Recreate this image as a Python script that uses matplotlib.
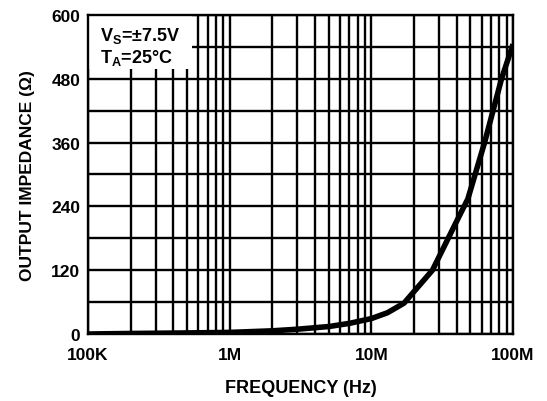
import matplotlib
matplotlib.use("Agg")
import matplotlib.pyplot as plt
from matplotlib.patches import Rectangle
from matplotlib.ticker import FixedLocator, NullFormatter

plt.rcParams['font.family'] = ['Liberation Sans', 'DejaVu Sans']
plt.rcParams['font.weight'] = 'bold'
plt.rcParams['mathtext.fontset'] = 'custom'
plt.rcParams['mathtext.rm'] = 'Liberation Sans:bold'
plt.rcParams['mathtext.it'] = 'Liberation Sans:bold'
plt.rcParams['mathtext.bf'] = 'Liberation Sans:bold'

freq = [1e5, 2e5, 5e5, 1e6, 2e6, 3e6, 5e6, 7e6, 1e7, 1.3e7, 1.7e7,
        2.7e7, 4e7, 4.8e7, 6.3e7, 8.3e7, 1e8]
impedance = [0, 1, 2, 3, 6, 9, 14, 20, 29, 40, 58,
             120, 212, 254, 360, 480, 545]

xticks = [1e5, 1e6, 1e7, 1e8]
xticklabels = ["100K", "1M", "10M", "100M"]
yticks = [0, 120, 240, 360, 480, 600]

fig = plt.figure(figsize=(5.47, 4.02), dpi=100)
ax = fig.add_axes([88/547, 1-335/402, 425/547, 319/402])

ax.set_xscale('log')
ax.set_xlim(1e5, 1e8)
ax.set_ylim(0, 600)

ax.set_xticks(xticks)
ax.set_xticklabels(xticklabels)
minor = [m * 10**e for e in range(5, 8) for m in range(2, 10)]
ax.xaxis.set_minor_locator(FixedLocator(minor))
ax.xaxis.set_minor_formatter(NullFormatter())
ax.set_yticks(yticks)
ax.yaxis.set_minor_locator(FixedLocator([60, 180, 300, 420, 540]))

ax.set_axisbelow(True)
ax.grid(True, which='both', color='black', linewidth=1.7)
ax.tick_params(which='both', length=0, labelsize=12.5)
ax.tick_params(axis='x', pad=9.5)
ax.tick_params(axis='y', pad=5.5)
for lab in ax.get_xticklabels() + ax.get_yticklabels():
    lab.set_fontweight('bold')
for s in ax.spines.values():
    s.set_linewidth(1.7)

ax.plot(freq, impedance, color='black', linewidth=4, solid_capstyle='butt',
        solid_joinstyle='round', zorder=3)

ax.add_patch(Rectangle((0, 1 - 54/319), 104/425, 54/319, transform=ax.transAxes,
                       facecolor='white', edgecolor='none', zorder=1))
ax.text(12/425, 1 - 20/319, "V$_{S}$=±7.5V", transform=ax.transAxes,
        fontsize=13, fontweight='bold', va='center', ha='left', zorder=4)
ax.text(12/425, 1 - 42/319, "T$_{A}$=25°C", transform=ax.transAxes,
        fontsize=13, fontweight='bold', va='center', ha='left', zorder=4)

ax.set_xlabel("FREQUENCY (Hz)", fontsize=13, fontweight='bold', labelpad=12)
ax.set_ylabel("OUTPUT IMPEDANCE (Ω)", fontsize=12.5, fontweight='bold', labelpad=12)

fig.savefig("out.png", dpi=100)
